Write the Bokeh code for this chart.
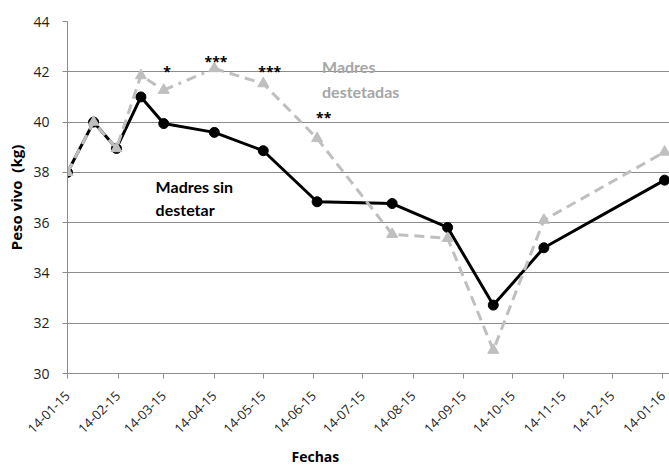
import pandas as pd
from math import pi
from bokeh.plotting import figure
from bokeh.models import FixedTicker, DatetimeTickFormatter, Label, Range1d, Title
from bokeh.embed import file_html
from bokeh.resources import INLINE

# ---- data ----
dates = ["2015-01-14", "2015-01-30", "2015-02-13", "2015-02-28", "2015-03-14",
         "2015-04-14", "2015-05-14", "2015-06-16", "2015-08-01", "2015-09-04",
         "2015-10-02", "2015-11-02", "2016-01-15"]
sin_destetar = [38.0, 40.0, 38.95, 41.0, 39.94, 39.59, 38.86, 36.83, 36.76, 35.81,
                32.72, 35.0, 37.69]
destetadas = [38.0, 40.0, 38.95, 41.85, 41.27, 42.13, 41.53, 39.35, 35.54, 35.38,
              30.93, 36.1, 38.81]
tick_dates = ["2015-01-14", "2015-02-14", "2015-03-14", "2015-04-14", "2015-05-14",
              "2015-06-14", "2015-07-14", "2015-08-14", "2015-09-14", "2015-10-14",
              "2015-11-14", "2015-12-14", "2016-01-14"]
y_ticks = [30, 32, 34, 36, 38, 40, 42, 44]
x_start, x_end = "2015-01-14", "2016-01-18"

# significance marks
sig_dates = ["2015-03-16", "2015-04-15", "2015-05-18", "2015-06-20"]
sig_y = [42.0, 42.4, 42.0, 40.2]
sig_text = ["*", "***", "***", "**"]


def ms(d):
    return pd.Timestamp(d).value // 10**6


x = [pd.Timestamp(d) for d in dates]

FONT = "Open Sans"
NOTE_FONT = "Lato"
GRID = "#8c8c8c"
GRAY = "#bfbfbf"

p = figure(width=669, height=469, x_axis_type="datetime",
           output_backend="svg", toolbar_location=None,
           x_range=Range1d(ms(x_start), ms(x_end)), y_range=Range1d(30, 44),
           min_border_left=67, min_border_right=0, min_border_top=21,
           min_border_bottom=96)
p.outline_line_color = None
p.background_fill_color = "white"
p.border_fill_color = "white"

# grid
p.xgrid.grid_line_color = None
p.ygrid.grid_line_color = GRID
p.ygrid.grid_line_width = 1

# axes
p.xaxis.ticker = FixedTicker(ticks=[ms(d) for d in tick_dates])
p.xaxis.formatter = DatetimeTickFormatter(
    days="%d-%m-%y", months="%d-%m-%y", years="%d-%m-%y", hours="%d-%m-%y",
    hourmin="%d-%m-%y", minutes="%d-%m-%y", minsec="%d-%m-%y", seconds="%d-%m-%y",
    milliseconds="%d-%m-%y", microseconds="%d-%m-%y", strip_leading_zeros=False)
p.xaxis.major_label_orientation = pi / 4
p.yaxis.ticker = FixedTicker(ticks=y_ticks)
for ax in (p.xaxis, p.yaxis):
    ax.axis_line_color = GRID
    ax.major_tick_line_color = GRID
    ax.major_tick_out = 5
    ax.major_tick_in = 0
    ax.minor_tick_line_color = None
    ax.major_label_text_font = FONT
    ax.major_label_text_font_size = "14px"
    ax.major_label_text_color = "#222222"
p.xaxis.major_label_text_font_size = "13px"
p.xaxis.major_label_standoff = 15
p.yaxis.major_label_standoff = 13

p.yaxis.axis_label = "Peso vivo\u00a0\u00a0(kg)"
p.yaxis.axis_label_text_font = FONT
p.yaxis.axis_label_text_font_style = "bold"
p.yaxis.axis_label_text_font_size = "15px"
p.yaxis.axis_label_text_color = "black"
p.yaxis.axis_label_standoff = 4

# black series
p.line(x, sin_destetar, line_color="black", line_width=3)
p.scatter(x, sin_destetar, marker="circle", size=10, fill_color="black",
          line_color="black")

# gray series (dash-dot stretch between March and April samples)
p.line(x[:5], destetadas[:5], line_color=GRAY, line_width=3, line_dash="10 6")
p.line(x[4:6], destetadas[4:6], line_color=GRAY, line_width=3, line_dash="10 6 3 6")
p.line(x[5:], destetadas[5:], line_color=GRAY, line_width=3, line_dash="10 6")
p.scatter(x, destetadas, marker="triangle", size=11, fill_color=GRAY,
          line_color=GRAY)

# annotations
for d, yv, t in zip(sig_dates, sig_y, sig_text):
    p.add_layout(Label(x=ms(d), y=yv, text=t, text_font=FONT,
                       text_font_style="bold", text_font_size="14px",
                       text_color="black", text_align="center",
                       text_baseline="alphabetic"))

for txt, d, yv in [("Madres", "2015-06-19", 42.22), ("destetadas", "2015-06-19", 41.23)]:
    p.add_layout(Label(x=ms(d), y=yv, text=txt, text_font=NOTE_FONT,
                       text_font_style="bold", text_font_size="16px",
                       text_color="#a6a6a6", text_align="left",
                       text_baseline="alphabetic"))
for txt, d, yv in [("Madres sin", "2015-03-09", 37.45), ("destetar", "2015-03-09", 36.54)]:
    p.add_layout(Label(x=ms(d), y=yv, text=txt, text_font=NOTE_FONT,
                       text_font_style="bold", text_font_size="16px",
                       text_color="black", text_align="left",
                       text_baseline="alphabetic"))

# x axis title
p.add_layout(Title(text="Fechas", align="left", offset=224, text_font=FONT,
                   text_font_style="bold", text_font_size="14px",
                   text_color="black", standoff=8), "below")

open("out.html", "w").write(file_html(p, INLINE))
